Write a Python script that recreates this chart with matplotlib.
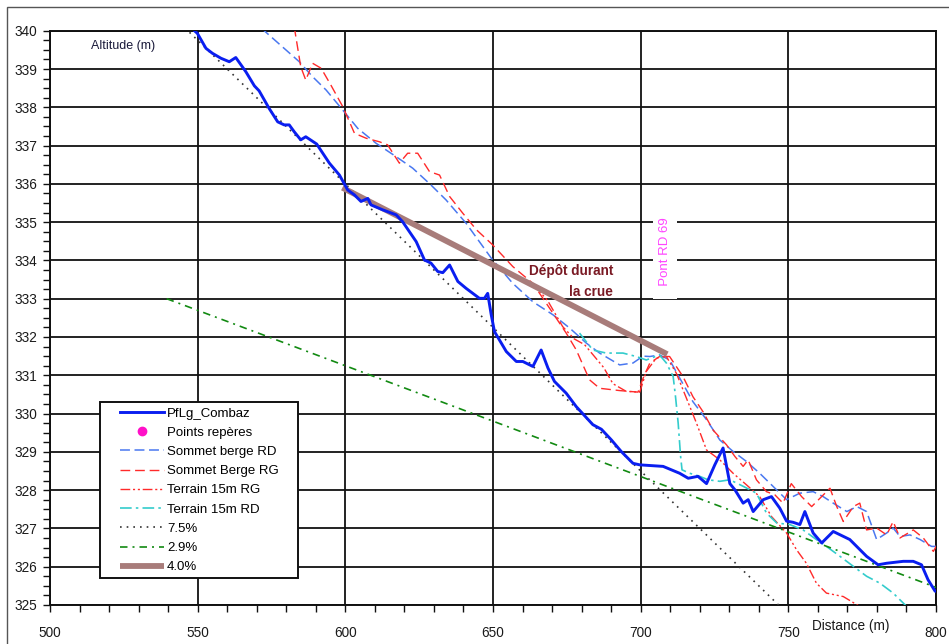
import matplotlib
matplotlib.use("Agg")
import matplotlib.pyplot as plt
from matplotlib.lines import Line2D
from matplotlib.patches import Rectangle
from matplotlib.ticker import MultipleLocator

plt.rcParams['font.family'] = ['Liberation Sans', 'DejaVu Sans']

# ---- data ----
pflg_x = [547.5, 549.9, 552.8, 555.0, 557.9, 560.7, 562.9, 566.3, 569.2, 570.8, 574.2, 577.1, 579.3, 581.0,
          582.7, 584.9, 586.6, 590.3, 594.6, 598.0, 600.8, 603.1, 605.3, 607.6, 608.7, 612.7, 617.2, 619.4,
          624.0, 626.8, 629.0, 631.3, 633.0, 635.3, 638.1, 640.9, 645.4, 647.1, 648.2, 649.4, 650.5, 654.5,
          657.9, 660.1, 663.5, 666.3, 668.6, 670.8, 674.8, 678.2, 683.8, 686.7, 690.1, 693.4, 697.4, 699.7,
          707.6, 713.2, 716.1, 719.4, 722.3, 725.1, 727.9, 730.2, 731.9, 734.7, 736.4, 738.1, 741.5, 744.3,
          747.1, 749.4, 751.6, 753.9, 755.6, 758.4, 761.3, 765.2, 770.8, 776.5, 780.4, 783.3, 788.9, 792.3,
          795.1, 797.3, 799.7, 801.4]
pflg_y = [340.10, 339.93, 339.54, 339.41, 339.28, 339.19, 339.30, 338.93, 338.56, 338.43, 337.97, 337.62, 337.54, 337.54,
          337.36, 337.15, 337.23, 337.04, 336.54, 336.23, 335.84, 335.71, 335.54, 335.62, 335.45, 335.32, 335.19, 335.01,
          334.49, 334.01, 333.93, 333.71, 333.68, 333.88, 333.45, 333.27, 333.01, 333.01, 333.14, 332.58, 332.14, 331.62,
          331.36, 331.36, 331.23, 331.66, 331.19, 330.84, 330.53, 330.18, 329.71, 329.59, 329.31, 329.01, 328.70, 328.66,
          328.62, 328.44, 328.31, 328.36, 328.17, 328.66, 329.10, 328.17, 328.01, 327.66, 327.75, 327.44, 327.75, 327.83,
          327.53, 327.19, 327.16, 327.10, 327.44, 326.88, 326.62, 326.92, 326.71, 326.27, 326.05, 326.09, 326.14, 326.14,
          326.05, 325.66, 325.36, 325.36]

berge_rd_x = [571.5, 584.4, 588.9, 593.5, 599.1, 604.2, 610.4, 617.2, 622.8, 629.0, 634.1, 640.9, 649.4, 656.7,
              663.5, 670.3, 676.0, 681.6, 686.1, 692.9, 697.4, 700.8, 703.1, 706.4, 709.8, 713.2, 717.7, 722.3,
              726.8, 731.3, 735.8, 740.3, 744.8, 749.4, 753.9, 758.4, 761.8, 765.2, 769.8, 773.2, 776.5, 779.9,
              783.3, 785.5, 787.8, 791.2, 794.6, 798.5, 801.4]
berge_rd_y = [340.07, 339.19, 338.80, 338.45, 337.93, 337.45, 337.06, 336.71, 336.41, 335.97, 335.58, 334.97, 334.06, 333.40,
              332.92, 332.58, 332.23, 331.84, 331.58, 331.27, 331.32, 331.50, 331.49, 331.53, 331.40, 330.93, 330.31, 329.84,
              329.31, 329.01, 328.75, 328.44, 328.10, 327.75, 327.92, 327.96, 327.83, 327.66, 327.44, 327.57, 327.44, 326.71,
              326.88, 327.01, 326.79, 326.83, 326.71, 326.53, 326.53]

berge_rg_x = [582.7, 584.9, 586.6, 588.9, 591.8, 595.1, 599.1, 603.1, 607.1, 611.5, 614.3, 618.3, 621.1, 624.5,
              628.5, 631.9, 635.3, 639.8, 644.4, 649.7, 656.7, 663.5, 670.3, 674.8, 678.2, 682.7, 686.1, 692.9,
              699.1, 700.8, 703.1, 706.4, 709.8, 714.3, 717.7, 721.1, 724.5, 729.1, 731.9, 734.7, 736.4, 739.2,
              742.6, 745.4, 748.2, 751.0, 754.5, 757.9, 764.1, 766.4, 768.6, 772.0, 774.2, 776.5, 779.9, 783.3,
              785.5, 787.8, 792.3, 795.7, 799.1, 801.4]
berge_rg_y = [340.10, 339.06, 338.71, 339.15, 339.02, 338.58, 338.02, 337.32, 337.19, 337.10, 337.02, 336.54, 336.80, 336.80,
              336.32, 336.23, 335.67, 335.23, 334.80, 334.42, 333.84, 333.40, 332.62, 332.10, 331.66, 330.88, 330.66, 330.60,
              330.56, 330.92, 331.32, 331.49, 331.49, 330.97, 330.44, 330.05, 329.57, 329.18, 328.88, 328.62, 328.79, 328.27,
              327.96, 327.88, 327.66, 328.17, 327.83, 327.57, 328.05, 327.57, 327.18, 327.57, 327.66, 326.96, 327.01, 326.83,
              327.18, 326.75, 326.96, 326.75, 326.40, 326.71]

terrain_rg_x = [664.0, 668.5, 673.6, 677.5, 681.0, 687.5, 690.6, 695.1, 699.7, 701.9, 705.3, 708.7, 712.1, 715.5,
                718.9, 722.3, 726.8, 731.3, 735.8, 740.3, 744.3, 749.4, 752.8, 756.1, 759.5, 762.9, 768.6, 774.2]
terrain_rg_y = [333.35, 332.95, 332.27, 331.95, 331.80, 331.20, 330.78, 330.58, 330.56, 331.10, 331.45, 331.49, 331.05, 330.40,
                329.75, 329.05, 328.79, 328.44, 328.14, 327.83, 327.31, 326.88, 326.44, 326.09, 325.57, 325.31, 325.22, 324.96]

terrain_rd_x = [679.3, 683.8, 688.3, 694.0, 698.5, 701.9, 706.4, 708.7, 711.0, 711.8, 712.7, 713.5, 714.0, 716.6,
                720.0, 722.8, 726.8, 730.2, 734.7, 739.2, 742.6, 746.1, 750.5, 755.0, 759.5, 762.9, 767.5, 772.0,
                776.5, 781.0, 785.5, 790.1]
terrain_rd_y = [332.10, 331.66, 331.58, 331.58, 331.49, 331.40, 331.53, 331.32, 330.97, 330.44, 329.75, 328.90, 328.53, 328.44,
                328.36, 328.27, 328.23, 328.27, 328.10, 327.92, 327.40, 327.14, 327.10, 326.96, 326.71, 326.53, 326.27, 326.01,
                325.75, 325.57, 325.31, 324.96]

pente75_x = [544.0, 750.0]
pente75_y = [340.20, 324.75]
pente29_x = [539.5, 800.0]
pente29_y = [333.00, 325.46]
pente40_x = [599.0, 709.0]
pente40_y = [335.90, 331.55]

labels = ['PfLg_Combaz', 'Points repères', 'Sommet berge RD', 'Sommet Berge RG', 'Terrain 15m RG',
          'Terrain 15m RD', '7.5%', '2.9%', '4.0%']

# ---- figure ----
fig = plt.figure(figsize=(9.49, 6.44), dpi=100)
fig.patches.append(Rectangle((0.0079, -1.0), 2.0, 1.9891, transform=fig.transFigure,
                             fill=False, edgecolor='#555555', linewidth=1.0))
ax = fig.add_axes([0.0527, 0.0606, 0.9336, 0.8917])

c_blue = '#0a1ef0'
c_rd = '#4a78f0'
c_red = '#ff2a2a'
c_cyan = '#33cccc'
c_green = '#128a12'
c_brown = '#a87c7a'

h = []
h += ax.plot(pflg_x, pflg_y, color=c_blue, lw=2.1, zorder=4)
h += [Line2D([], [], marker='o', color='#ff10c8', linestyle='none', markersize=6)]
h += ax.plot(berge_rd_x, berge_rd_y, color=c_rd, lw=1.1, linestyle=(0, (6.5, 3)), zorder=3)
h += ax.plot(berge_rg_x, berge_rg_y, color=c_red, lw=1.0, linestyle=(0, (7, 3.5)), zorder=3)
h += ax.plot(terrain_rg_x, terrain_rg_y, color=c_red, lw=1.0, linestyle=(0, (7, 2, 1.5, 2, 1.5, 2)), zorder=3)
h += ax.plot(terrain_rd_x, terrain_rd_y, color=c_cyan, lw=1.2, linestyle=(0, (7, 2.5, 1.5, 2.5)), zorder=3)
h += ax.plot(pente75_x, pente75_y, color='#333333', lw=1.2, linestyle=(0, (1, 3)), zorder=3)
h += ax.plot(pente29_x, pente29_y, color=c_green, lw=1.2, linestyle=(0, (4.5, 3, 1.2, 3)), zorder=3)
h += ax.plot(pente40_x, pente40_y, color=c_brown, lw=4.2, solid_capstyle='butt', zorder=3)

ax.set_xlim(500, 800)
ax.set_ylim(325, 340)
ax.xaxis.set_major_locator(MultipleLocator(50))
ax.xaxis.set_minor_locator(MultipleLocator(10))
ax.yaxis.set_major_locator(MultipleLocator(1))
ax.yaxis.set_minor_locator(MultipleLocator(0.25))
ax.grid(True, which='major', color='#111111', linewidth=1.3)
ax.set_axisbelow(True)
ax.tick_params(which='both', direction='out', length=5, width=1, color='#111111')
ax.tick_params(axis='y', which='major', labelsize=9.8, pad=4, labelcolor='#1a1a1a')
ax.tick_params(axis='x', which='major', labelsize=9.8, pad=10, labelcolor='#1a1a1a')
for s in ax.spines.values():
    s.set_linewidth(1.4)
    s.set_color('#111111')

ax.text(0.0824, 0.974, 'Altitude (m)', transform=ax.transAxes, ha='center', va='center',
        fontsize=9, color='#1a1a3a')
ax.text(771, -0.037, 'Distance (m)', transform=ax.get_xaxis_transform(), ha='center', va='center',
        fontsize=9.8, color='#1a1a1a', clip_on=False)
ax.text(690.6, 333.45, 'Dépôt durant\nla crue', ha='right', va='center', multialignment='right',
        fontsize=9.8, fontweight='bold', color='#7a1a24', linespacing=1.65, zorder=5)
ax.text(708.2, 334.23, '  Pont RD 69  ', rotation=90, ha='center', va='center', fontsize=9.5,
        color='#ff44ff', zorder=2.5,
        bbox=dict(facecolor='white', edgecolor='none', pad=4.5))

# legend box
ax.add_patch(Rectangle((0.0564, 0.0466), 0.2235, 0.3074, transform=ax.transAxes,
                       facecolor='white', edgecolor='#111111', linewidth=1.4, zorder=6))
leg = ax.legend(h, labels, loc='upper left', bbox_to_anchor=(0.0564 + 0.019, 0.350), borderaxespad=0,
                frameon=False, fontsize=9.5, handlelength=3.3, handletextpad=0.25, labelspacing=0.53,
                borderpad=0.25)
leg.set_zorder(7)

fig.savefig('out.png', dpi=100)
